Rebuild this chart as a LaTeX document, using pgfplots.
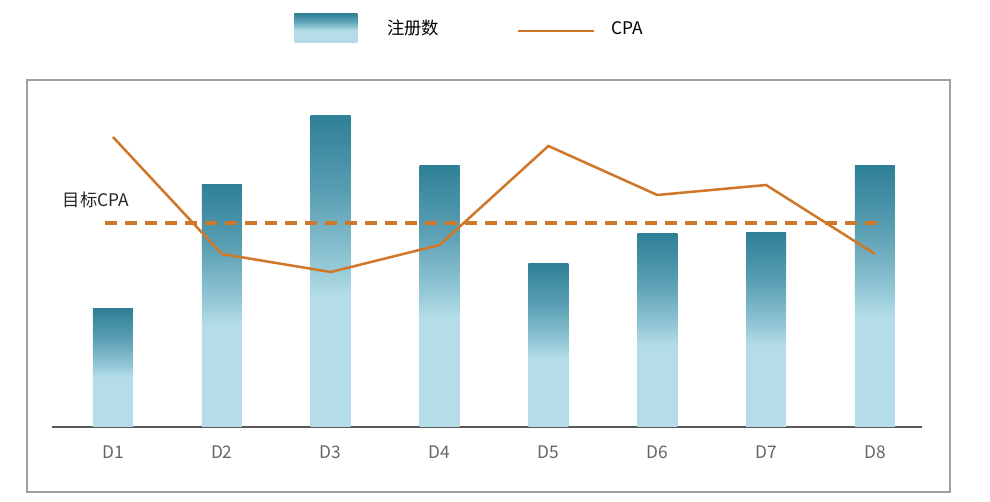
\documentclass[border=0pt]{standalone}
\usepackage{pgfplots}
\pgfplotsset{compat=1.18}
\usepackage{fontspec}
\setmainfont{Noto Sans CJK SC}

\definecolor{barlight}{HTML}{B4DDE7}
\definecolor{barmid}{HTML}{5A9FB3}
\definecolor{barmidl}{HTML}{94C8D6}
\definecolor{bardark}{HTML}{2F8097}
\definecolor{cpaorange}{HTML}{D0782A}
\definecolor{labelgray}{HTML}{666666}
\definecolor{framegray}{HTML}{A0A0A0}

% the path is mapped onto the middle 25bp..75bp of the shading
\pgfdeclareverticalshading{barshade}{100bp}{%
  color(0bp)=(barlight); color(46bp)=(barlight); color(51bp)=(barmidl);
  color(62.5bp)=(barmid); color(75bp)=(bardark); color(100bp)=(bardark)}

% one bar per plot, so that each bar gets its own shading
\pgfplotsset{
    regbar/.style={ybar, bar width=30pt, draw=none, shading=barshade},
}

\begin{document}
\begin{tikzpicture}
% page size: 990 x 502 px at 0.75pt per px
\path (0pt,0pt) rectangle (742.5pt,376.5pt);
\draw[framegray, line width=0.8pt] (20.25pt,7.5pt) rectangle (712.5pt,316.5pt);

\begin{axis}[
    at={(39pt,56.25pt)}, anchor=south west,
    scale only axis,
    width=652.5pt, height=260.25pt,
    xmin=0.44, xmax=8.432,
    ymin=0, ymax=347,
    axis x line*=bottom,
    axis y line=none,
    x axis line style={draw=black!65, line width=1.1pt},
    xtick={1,2,3,4,5,6,7,8},
    xticklabels={D1,D2,D3,D4,D5,D6,D7,D8},
    ytick=\empty,
    major tick length=0pt,
    xticklabel style={font=\fontsize{13}{15}\selectfont, text=labelgray,
                      anchor=base, yshift=-24pt, inner sep=0pt},
    clip=false,
    legend columns=2,
    legend style={
        at={(axis cs:2.663,399)}, anchor=west,
        draw=none, fill=none, inner sep=0pt,
        font=\fontsize{13}{15}\selectfont,
        nodes={inner sep=0pt},
    },
]

\addplot[regbar,
    legend image code/.code={
        \shade[shading=barshade] (0pt,-10.9pt) rectangle (47.25pt,10.9pt);
        \path[draw=none] (0pt,0pt) -- (69.75pt,0pt);}]
    coordinates {(1,118)};
\addlegendentry{注册数\hspace*{57.75pt}}
\addplot[regbar, forget plot] coordinates {(2,242)};
\addplot[regbar, forget plot] coordinates {(3,311)};
\addplot[regbar, forget plot] coordinates {(4,261)};
\addplot[regbar, forget plot] coordinates {(5,163)};
\addplot[regbar, forget plot] coordinates {(6,193)};
\addplot[regbar, forget plot] coordinates {(7,194)};
\addplot[regbar, forget plot] coordinates {(8,261)};

\addplot[sharp plot, cpaorange, line width=1.9pt, no markers,
    legend image code/.code={
        \draw[cpaorange, line width=1.9pt] (0pt,-2.25pt) -- (57pt,-2.25pt);
        \path[draw=none] (0pt,0pt) -- (70.5pt,0pt);}]
    coordinates {(1,290)(2,173)(3,155)(4,182)(5,281)(6,232)(7,242)(8,173)};
\addlegendentry{\raisebox{-2.25pt}{CPA}}

% target CPA
\addplot[forget plot, sharp plot, cpaorange, line width=2.8pt,
    dash pattern=on 9pt off 6pt, no markers]
    coordinates {(0.926,204)(8.03,204)};
\node[font=\fontsize{13}{15}\selectfont, text=black!85, inner sep=0pt]
    at (axis cs:0.844,227) {目标CPA};

\end{axis}
\end{tikzpicture}
\end{document}
